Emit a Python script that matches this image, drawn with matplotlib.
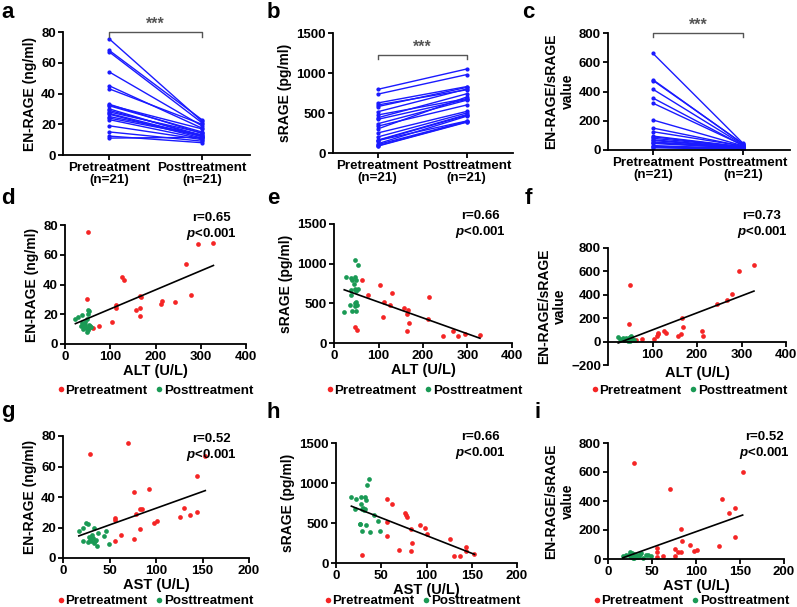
import numpy as np
import matplotlib
matplotlib.use("Agg")
import matplotlib.pyplot as plt
from matplotlib.lines import Line2D

plt.rcParams['font.family'] = ['Liberation Sans', 'DejaVu Sans']
plt.rcParams['font.weight'] = 'bold'
plt.rcParams['mathtext.fontset'] = 'custom'
plt.rcParams['mathtext.bfit'] = 'Liberation Sans:bold:italic'

# ---------------- data ----------------
groups = ["Pretreatment\n(n=21)", "Posttreatment\n(n=21)"]

# panel a: EN-RAGE paired
a_pre = [75.5, 68, 67, 54, 45, 43, 33, 32.5, 32, 30, 29, 28, 27, 26.5, 25, 24, 23, 19, 15, 12.3, 11]
a_post = [22, 23, 21, 19, 17.5, 20, 14, 17, 15, 12, 13, 14.5, 12, 11, 13, 12.5, 10.5, 10, 9, 8, 11.5]

# panel b: sRAGE paired
b_pre = [795, 735, 625, 600, 580, 515, 475, 440, 420, 365, 335, 300, 250, 200, 160, 155, 155, 115, 105, 90, 85]
b_post = [1050, 980, 830, 790, 820, 800, 680, 740, 670, 660, 600, 700, 520, 500, 480, 470, 400, 460, 395, 390, 385]

# panel c: ratio paired
c_pre = [660, 480, 475, 415, 355, 320, 205, 150, 125, 95, 90, 80, 70, 65, 55, 50, 45, 30, 25, 20, 15]
c_post = [45, 40, 42, 35, 30, 32, 28, 25, 27, 22, 20, 21, 18, 15, 16, 12, 13, 10, 9, 8, 5]

# panel d: ALT vs EN-RAGE
d_pre_x = [50, 295, 328, 267, 127, 131, 166, 279, 48, 214, 212, 244, 112, 112, 158, 166, 165, 103, 76, 62, 168]
d_pre_y = [75.5, 67, 68, 54, 45, 43, 32, 33, 30, 29, 27, 28, 26.5, 24.5, 23, 24, 18.5, 15, 12.3, 11, 31.5]
d_post_x = [23, 28, 38, 50, 53, 50, 48, 45, 38, 40, 45, 52, 55, 58, 40, 48, 50, 48, 52, 35, 43]
d_post_y = [17, 18, 19.5, 23, 22.5, 20, 17, 15, 14, 12.5, 13, 13, 12, 11.5, 10, 11, 9.5, 8, 10.5, 12, 11]

# panel e: ALT vs sRAGE
e_pre_x = [62, 103, 76, 131, 214, 112, 126, 158, 166, 165, 168, 110, 212, 48, 52, 165, 267, 244, 279, 295, 328]
e_pre_y = [795, 735, 600, 625, 580, 515, 475, 440, 420, 365, 250, 330, 300, 200, 160, 155, 155, 90, 85, 115, 105]
e_post_x = [48, 55, 28, 38, 40, 48, 50, 45, 38, 48, 55, 50, 38, 50, 48, 52, 37, 48, 23, 40, 50]
e_post_y = [1050, 980, 830, 820, 800, 830, 800, 740, 670, 680, 680, 660, 600, 520, 500, 480, 480, 470, 390, 400, 400]

# panel f: ALT vs ratio
f_pre_x = [50, 48, 62, 76, 103, 110, 112, 112, 126, 131, 158, 166, 165, 168, 212, 214, 244, 267, 279, 295, 328]
f_pre_y = [480, 150, 15, 20, 20, 50, 65, 75, 90, 70, 50, 200, 65, 125, 90, 45, 320, 355, 410, 600, 655]
f_post_x = [23, 28, 35, 38, 40, 45, 48, 50, 52, 55, 42, 47, 50, 53, 36, 44, 58, 33, 49, 51, 46]
f_post_y = [40, 20, 10, 25, 30, 15, 35, 40, 30, 20, 18, 12, 8, 25, 15, 22, 10, 30, 20, 45, 5]

# panel g: AST vs EN-RAGE
g_pre_x = [70, 29, 153, 144, 93, 76, 130, 83, 85, 79, 144, 126, 137, 56, 56, 98, 101, 83, 62, 76, 56]
g_pre_y = [75.5, 68, 67, 54, 45, 43, 33, 32, 32, 29, 30, 27, 28, 26.5, 25, 23, 24, 19, 15, 12.3, 11]
g_post_x = [17, 21, 25, 27, 33, 38, 46, 44, 22, 27, 29, 30, 32, 34, 28, 31, 35, 37, 49, 30, 33]
g_post_y = [18, 20, 23, 22.5, 20, 16.5, 17.5, 14.5, 11, 10.5, 12, 14, 13, 11, 13.5, 15, 12, 8, 9, 11, 10]

# panel h: AST vs sRAGE
h_pre_x = [56, 62, 76, 77, 79, 93, 98, 83, 101, 126, 56, 56, 84, 70, 83, 144, 144, 153, 130, 137, 29]
h_pre_y = [795, 735, 620, 600, 580, 480, 440, 420, 365, 300, 515, 335, 250, 160, 155, 200, 155, 115, 85, 90, 105]
h_post_x = [17, 22, 28, 32, 33, 37, 34, 28, 21, 29, 31, 32, 42, 46, 33, 26, 27, 29, 38, 49, 30]
h_post_y = [830, 800, 830, 830, 790, 1050, 980, 740, 670, 680, 660, 670, 600, 520, 470, 490, 490, 400, 390, 400, 690]

# panel i: AST vs ratio
i_pre_x = [29, 70, 153, 130, 144, 137, 83, 84, 144, 93, 126, 56, 56, 76, 79, 83, 98, 101, 62, 76, 56]
i_pre_y = [660, 480, 600, 415, 355, 320, 205, 125, 150, 95, 90, 75, 50, 70, 50, 45, 55, 65, 20, 20, 15]
i_post_x = [17, 21, 25, 27, 30, 33, 28, 32, 29, 34, 38, 43, 46, 49, 26, 31, 35, 40, 30, 24, 36]
i_post_y = [20, 25, 45, 40, 35, 30, 10, 15, 20, 12, 40, 25, 30, 20, 15, 25, 20, 10, 5, 30, 35]

r_values = ["r=0.65", "r=0.66", "r=0.73", "r=0.52", "r=0.66", "r=0.52"]

W, H = 797, 607
fig = plt.figure(figsize=(W / 100, H / 100), dpi=100)

RED = '#f52525'
GREEN = '#1a9a55'
BLUE = '#1a1aff'
TICK_FS = 9.5
LAB_FS = 10


def add_ax(left, right, top, bottom):
    return fig.add_axes([left / W, 1 - bottom / H, (right - left) / W, (bottom - top) / H])


def style(ax):
    for s in ['top', 'right']:
        ax.spines[s].set_visible(False)
    for s in ['left', 'bottom']:
        ax.spines[s].set_linewidth(1.3)
    ax.tick_params(width=1.3, length=3.5, labelsize=TICK_FS, pad=1.5)
    for lab in ax.get_xticklabels() + ax.get_yticklabels():
        lab.set_fontweight('bold')


def paired(ax, pre, post, ylim, yticks, ylabel, bracket_y, tick_drop):
    for p, q in zip(pre, post):
        ax.plot([0, 1], [p, q], color=BLUE, lw=1.0, marker='o', ms=2, mec=BLUE, mfc=BLUE)
    ax.set_xlim(-0.5, 1.52)
    ax.set_ylim(*ylim)
    ax.set_yticks(yticks)
    ax.set_xticks([0, 1])
    style(ax)
    ax.set_xticklabels(groups, fontsize=9.6, fontweight='bold', linespacing=1.0)
    ax.set_ylabel(ylabel, fontsize=LAB_FS, fontweight='bold', labelpad=3)
    ax.plot([0, 0, 1, 1], [bracket_y - tick_drop, bracket_y, bracket_y, bracket_y - tick_drop],
            color='#555555', lw=1.0, clip_on=False)
    ax.text(0.5, bracket_y, "***", ha='center', va='bottom', fontsize=11.5, color='#555555',
            fontweight='bold', clip_on=False)


def scatter(ax, prex, prey, postx, posty, xlim, xticks, ylim, yticks, xlabel, ylabel):
    ax.plot(prex, prey, 'o', color=RED, ms=3.4, mec='none', clip_on=False)
    ax.plot(postx, posty, 'o', color=GREEN, ms=3.4, mec='none', clip_on=False)
    allx = np.array(prex + postx, float)
    ally = np.array(prey + posty, float)
    k, b = np.polyfit(allx, ally, 1)
    xs = np.array([allx.min(), allx.max()])
    ax.plot(xs, k * xs + b, color='black', lw=1.2)
    ax.set_xlim(*xlim)
    ax.set_ylim(*ylim)
    ax.set_xticks(xticks)
    ax.set_yticks(yticks)
    ax.set_xlabel(xlabel, fontsize=LAB_FS + 0.5, fontweight='bold', labelpad=0.5)
    ax.set_ylabel(ylabel, fontsize=LAB_FS, fontweight='bold', labelpad=3)
    style(ax)


def legend(y_px, x_px):
    h = [Line2D([], [], marker='o', ls='none', color=RED, ms=4, mec='none'),
         Line2D([], [], marker='o', ls='none', color=GREEN, ms=4, mec='none')]
    fig.legend(h, ["Pretreatment", "Posttreatment"], loc='center',
               bbox_to_anchor=(x_px / W, 1 - y_px / H), ncol=2, frameon=False,
               prop={'size': 9.6, 'weight': 'bold'}, handlelength=0.35, handletextpad=0.15,
               columnspacing=0.7, borderpad=0, borderaxespad=0)


def stat_text(x_px, y_px, r):
    fig.text(x_px / W, 1 - y_px / H, r, ha='center', va='center', fontsize=9.5, fontweight='bold')
    fig.text(x_px / W, 1 - (y_px + 16) / H, r"$\mathbfit{p}$" + "<0.001", ha='center', va='center',
             fontsize=9.5, fontweight='bold')


def letter(x_px, y_px, s):
    fig.text(x_px / W, 1 - y_px / H, s, ha='left', va='center', fontsize=16, fontweight='bold')


RATIO_LABEL = "EN-RAGE/sRAGE\nvalue"

# row 1
ax = add_ax(63, 250, 32, 155)
paired(ax, a_pre, a_post, (0, 80), [0, 20, 40, 60, 80], "EN-RAGE (ng/ml)", 80, 3)
ax = add_ax(333, 513, 33, 153)
paired(ax, b_pre, b_post, (0, 1500), [0, 500, 1000, 1500], "sRAGE (pg/ml)", 1225, 50)
ax = add_ax(608, 790, 33, 150)
paired(ax, c_pre, c_post, (0, 800), [0, 200, 400, 600, 800], RATIO_LABEL, 800, 30)

# row 2
ax = add_ax(65, 246, 225, 344)
scatter(ax, d_pre_x, d_pre_y, d_post_x, d_post_y, (0, 400), [0, 100, 200, 300, 400],
        (0, 80), [0, 20, 40, 60, 80], "ALT (U/L)", "EN-RAGE (ng/ml)")
ax = add_ax(334, 512, 224, 343)
scatter(ax, e_pre_x, e_pre_y, e_post_x, e_post_y, (0, 400), [0, 100, 200, 300, 400],
        (0, 1500), [0, 500, 1000, 1500], "ALT (U/L)", "sRAGE (pg/ml)")
ax = add_ax(608, 786, 248, 365)
scatter(ax, f_pre_x, f_pre_y, f_post_x, f_post_y, (0, 400), [100, 200, 300, 400],
        (-200, 800), [-200, 0, 200, 400, 600, 800], "ALT (U/L)", RATIO_LABEL)
ax.spines['bottom'].set_position(('data', 0))
ax.xaxis.set_label_coords(0.5, -0.005)

# row 3
ax = add_ax(63, 249, 436, 558)
scatter(ax, g_pre_x, g_pre_y, g_post_x, g_post_y, (0, 200), [0, 50, 100, 150, 200],
        (0, 80), [0, 20, 40, 60, 80], "AST (U/L)", "EN-RAGE (ng/ml)")
ax = add_ax(336, 517, 443, 563)
scatter(ax, h_pre_x, h_pre_y, h_post_x, h_post_y, (0, 200), [0, 50, 100, 150, 200],
        (0, 1500), [0, 500, 1000, 1500], "AST (U/L)", "sRAGE (pg/ml)")
ax = add_ax(608, 784, 443, 559)
scatter(ax, i_pre_x, i_pre_y, i_post_x, i_post_y, (0, 200), [0, 50, 100, 150, 200],
        (0, 800), [0, 200, 400, 600, 800], "AST (U/L)", RATIO_LABEL)

# legends
for y, xs in ((391, (156, 425, 690)), (601, (156, 423, 692))):
    for x in xs:
        legend(y, x)

# stats
stat_pos = [(211, 218), (480, 216), (762, 216), (211, 439), (480, 437), (764, 437)]
for (x, y), r in zip(stat_pos, r_values):
    stat_text(x, y, r)

# panel letters
for s, (x, y) in zip("abcdefghi", [(1, 12), (267, 12), (522, 12), (1, 198), (267, 198),
                                    (525, 198), (1, 412), (267, 412), (535, 412)]):
    letter(x, y, s)

fig.savefig("out.png", dpi=100)
